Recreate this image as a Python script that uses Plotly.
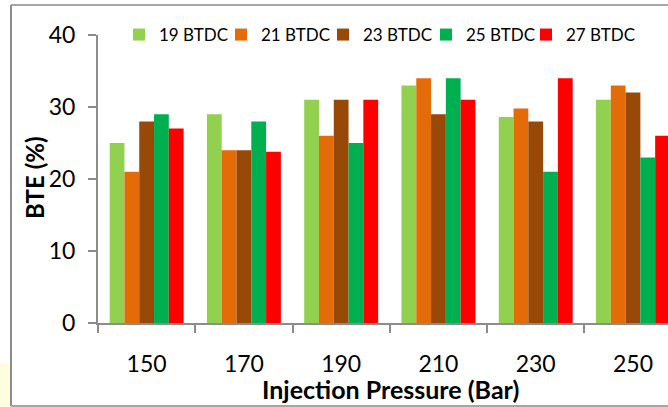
import plotly.graph_objects as go

categories = ["150", "170", "190", "210", "230", "250"]
series_names = ["19 BTDC", "21 BTDC", "23 BTDC", "25 BTDC", "27 BTDC"]
bte_19 = [25, 29, 31, 33, 28.6, 31]
bte_21 = [21, 24, 26, 34, 29.8, 33]
bte_23 = [28, 24, 31, 29, 28, 32]
bte_25 = [29, 28, 25, 34, 21, 23]
bte_27 = [27, 23.8, 31, 31, 34, 26]
colors = ["#92D050", "#E36C09", "#984807", "#00B050", "#FF0000"]

FONT = "Lato"
L, T, B, W, H = 98, 35, 84, 668, 407
PW, PH = W - L, H - T - B


def px(x):
    return (x - L) / PW


def py(y):
    return (H - B - y) / PH


legend_ids = ["legend", "legend2", "legend3", "legend4", "legend5"]
legend_left = [119, 221, 323, 426, 526]

fig = go.Figure()
for name, vals, col, lid in zip(series_names, [bte_19, bte_21, bte_23, bte_25, bte_27], colors, legend_ids):
    fig.add_trace(go.Bar(name=name, x=categories, y=vals, legend=lid,
                         marker=dict(color=col, line=dict(width=0))))

legend_layout = {}
for lid, lx in zip(legend_ids, legend_left):
    legend_layout[lid] = dict(orientation="h", x=px(lx), y=py(35), xanchor="left", yanchor="middle",
                              font=dict(size=17, family=FONT), itemwidth=30,
                              bgcolor="rgba(0,0,0,0)")

fig.update_layout(
    width=W, height=H,
    margin=dict(l=L, r=0, t=T, b=B, autoexpand=False),
    paper_bgcolor="white", plot_bgcolor="white",
    barmode="group", bargap=0.24, bargroupgap=0,
    font=dict(family=FONT, color="#000000"),
    showlegend=True,
    **legend_layout,
    xaxis=dict(type="category", range=[-0.5, 5.36], showline=True, linecolor="#8c8c8c", linewidth=2,
               ticks="outside", tickson="boundaries", ticklen=8, tickcolor="#8c8c8c", tickwidth=2,
               tickfont=dict(size=23, family=FONT), ticklabelstandoff=19, showgrid=False),
    yaxis=dict(range=[0, 40], tickvals=[0, 10, 20, 30, 40], showline=True, linecolor="#8c8c8c", linewidth=2,
               ticks="outside", ticklen=8, tickcolor="#8c8c8c", tickwidth=2, showgrid=False, zeroline=False,
               tickfont=dict(size=23, family=FONT), ticklabelstandoff=8),
    annotations=[
        dict(text="<b>Injection Pressure (Bar)</b>", xref="paper", yref="paper", x=px(390), y=py(389),
             xanchor="center", yanchor="middle", showarrow=False, font=dict(size=25, family=FONT)),
        dict(text="<b>BTE (%)</b>", xref="paper", yref="paper", x=px(34), y=py(178), textangle=-90,
             xanchor="center", yanchor="middle", showarrow=False, font=dict(size=24, family=FONT)),
    ],
    shapes=[
        dict(type="rect", xref="paper", yref="paper", x0=px(0), x1=px(9), y0=py(407), y1=py(363),
             fillcolor="#FFFDE0", line=dict(width=0), layer="below"),
        dict(type="line", xref="paper", yref="paper", x0=px(11), x1=px(700), y0=py(5), y1=py(5),
             line=dict(color="#a6a6a6", width=2), layer="below"),
        dict(type="line", xref="paper", yref="paper", x0=px(11), x1=px(11), y0=py(5), y1=py(406),
             line=dict(color="#8c8c8c", width=2), layer="below"),
        dict(type="line", xref="paper", yref="paper", x0=px(11), x1=px(700), y0=py(406), y1=py(406),
             line=dict(color="#a6a6a6", width=2), layer="below"),
    ],
)
fig.write_html("out.html", config={"displayModeBar": False},
               post_script="document.body.style.margin='0px';")
